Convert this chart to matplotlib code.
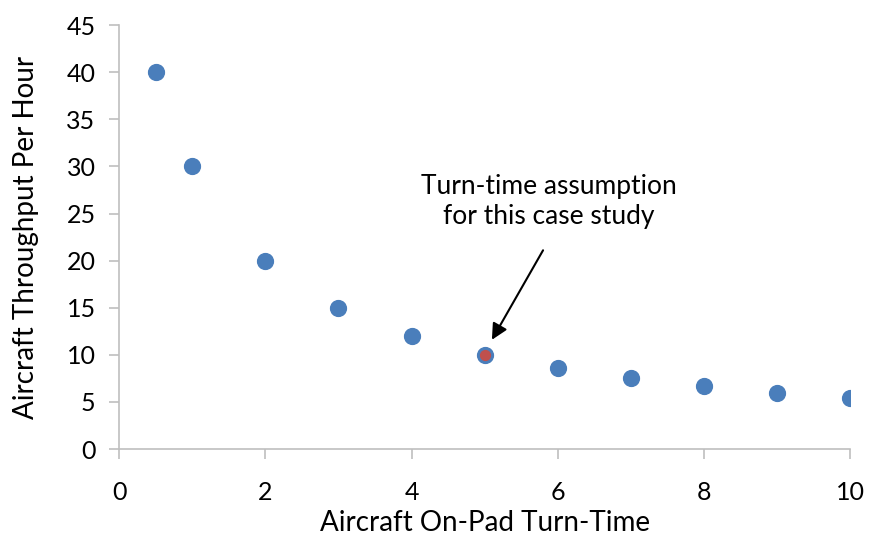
import matplotlib
matplotlib.use('Agg')
import matplotlib.pyplot as plt

# turn time (x) vs aircraft throughput per hour (y)
turn_time = [0.5, 1, 2, 3, 4, 5, 6, 7, 8, 9, 10]
throughput = [40, 30, 20, 15, 12, 10, 8.57, 7.5, 6.67, 6, 5.45]
# highlighted case-study point
case_x = [5]
case_y = [10]

plt.rcParams['font.family'] = ['Lato', 'DejaVu Sans']

fig = plt.figure(figsize=(8.7, 5.34), dpi=100)
ax = fig.add_axes([0.137, 0.159, 0.840, 0.794])

ax.scatter(turn_time, throughput, s=130, color='#4A7EBB', zorder=3)
ax.scatter(case_x, case_y, s=50, color='#C0504D', zorder=4)

ax.set_xlim(0, 10)
ax.set_ylim(0, 45)
ax.set_xticks(range(0, 11, 2))
ax.set_yticks(range(0, 46, 5))

grey = '#BFBFBF'
for side in ['top', 'right']:
    ax.spines[side].set_visible(False)
for side in ['left', 'bottom']:
    ax.spines[side].set_color(grey)
    ax.spines[side].set_linewidth(1.2)
ax.tick_params(axis='both', colors=grey, length=7, width=1.2, labelsize=18,
               labelcolor='black', pad=10)
ax.tick_params(axis='x', pad=16)

ax.set_xlabel('Aircraft On-Pad Turn-Time', fontsize=20, labelpad=4)
ax.set_ylabel('Aircraft Throughput Per Hour', fontsize=20, labelpad=20)

ax.text(5.88, 26.3, 'Turn-time assumption\nfor this case study',
        ha='center', va='center', fontsize=19, linespacing=1.25)
ax.annotate('', xy=(5.1, 11.6), xytext=(5.80, 21.1),
            arrowprops=dict(arrowstyle='-|>', color='black', lw=1.5,
                            mutation_scale=24, shrinkA=0, shrinkB=0))

plt.savefig('out.png', dpi=100, facecolor='w')
